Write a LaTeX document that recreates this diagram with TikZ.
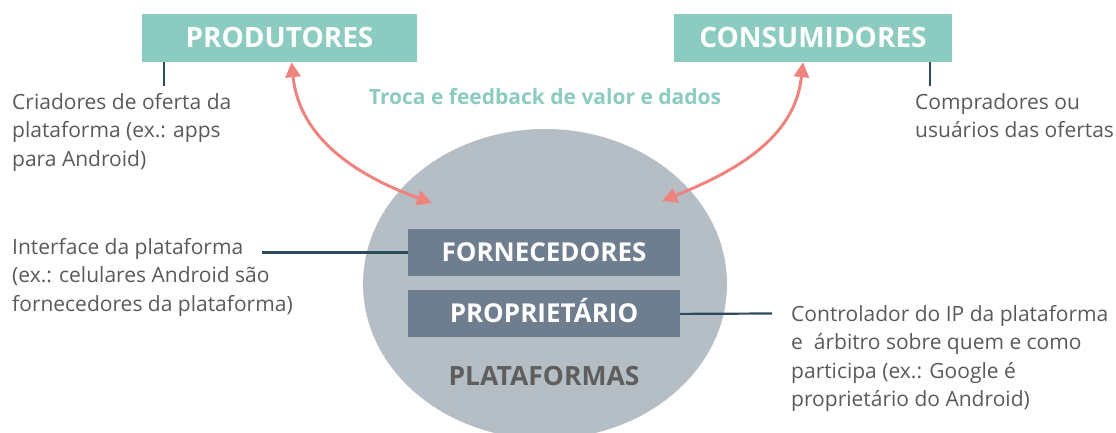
\documentclass[tikz,border=0pt]{standalone}
\usepackage{fontspec}
\setmainfont{Open Sans}
\usetikzlibrary{arrows.meta,positioning,shapes.geometric}
\definecolor{teali}{RGB}{139,203,192}
\definecolor{slatei}{RGB}{110,126,142}
\definecolor{grayi}{RGB}{181,189,197}
\definecolor{salmoni}{RGB}{239,132,126}
\definecolor{linei}{RGB}{45,75,92}
\definecolor{texti}{RGB}{90,90,90}
\definecolor{textii}{RGB}{94,94,94}
\tikzset{
      mytopblock/.style 2 args={
        fill=#1,
        text=white,
        font=\fontsize{28}{34}\selectfont\bfseries,
        align=center,
        text width=#2,
        inner xsep=0pt,
        inner ysep=14pt,
        text height=20pt,
        text depth=0pt
      },
      myinblock/.style 2 args={
        fill=#1,
        text=white,
        font=\fontsize{26}{30}\selectfont\bfseries,
        align=center,
        text width=#2,
        inner xsep=0pt,
        inner ysep=14.5pt,
        text height=18pt,
        text depth=0pt
      },
      mynote/.style={
        text=texti,
        font=\fontsize{21}{28.5}\selectfont,
        align=left,
        inner sep=0pt,
        anchor=north west
      },
      mylink/.style={
        draw=linei,
        line width=2.2pt
      },
      myarrow/.style={
        draw=salmoni,
        line width=3pt,
        {Triangle[length=15pt,width=15pt]}-{Triangle[length=15pt,width=15pt]}
      },
    }
\begin{document}
\begin{tikzpicture}[x=1pt,y=1pt]
          \useasboundingbox (0,0) rectangle (1116,-433);

          \node[ellipse,fill=grayi,minimum width=364pt,minimum height=310pt,inner sep=0pt]
            (platform) at (545,-284)
            {};
          \node[myinblock={slatei}{272pt}]
            (forn) at (544,-252.5)
            {FORNECEDORES};
          \node[myinblock={slatei}{272pt},below=14pt of forn]
            (prop)
            {PROPRIETÁRIO};
          \node[font=\fontsize{26.5}{30}\selectfont\bfseries,text=textii,below=25pt of prop]
            (platlabel)
            {PLATAFORMAS};

          \node[mytopblock={teali}{275pt}]
            (prod) at (279.5,-38)
            {PRODUTORES};
          \node[mytopblock={teali}{278pt}]
            (cons) at (813,-38)
            {CONSUMIDORES};
          \node[text=teali,font=\fontsize{21}{24}\selectfont\bfseries]
            (troca) at (545,-97)
            {Troca e feedback de valor e dados};

          \node[mynote]
            (prodnote) at (12,-93)
            {Criadores de oferta da\\plataforma (ex.: apps\\para Android)};
          \node[mynote]
            (consnote) at (915,-93)
            {Compradores ou\\usuários das ofertas};
          \node[mynote]
            (fornnote) at (12,-238)
            {Interface da plataforma\\(ex.: celulares Android são\\fornecedores da plataforma)};
          \node[mynote]
            (propnote) at (791,-305)
            {Controlador do IP da plataforma\\e\ \ árbitro sobre quem e como\\participa (ex.: Google é\\proprietário do Android)};

          \coordinate (tickL) at (164,-86);
          \coordinate (tickR) at (930,-86);
          \coordinate (linkL) at (262,-252.5);
          \coordinate (linkR) at (772,-313.5);
          \coordinate (inL) at (432,-203);
          \coordinate (inR) at (662,-201);

          \draw[mylink] (tickL |- prod.south) -- (tickL);
          \draw[mylink] (tickR |- cons.south) -- (tickR);
          \draw[mylink] (linkL) -- (forn.west);
          \draw[mylink] (prop.east) -- (linkR);

          \draw[myarrow] ([xshift=12pt]prod.south) to[out=-84,in=160] (inL);
          \draw[myarrow] ([xshift=-10pt]cons.south) to[out=-96,in=22] (inR);
        \end{tikzpicture}
\end{document}
